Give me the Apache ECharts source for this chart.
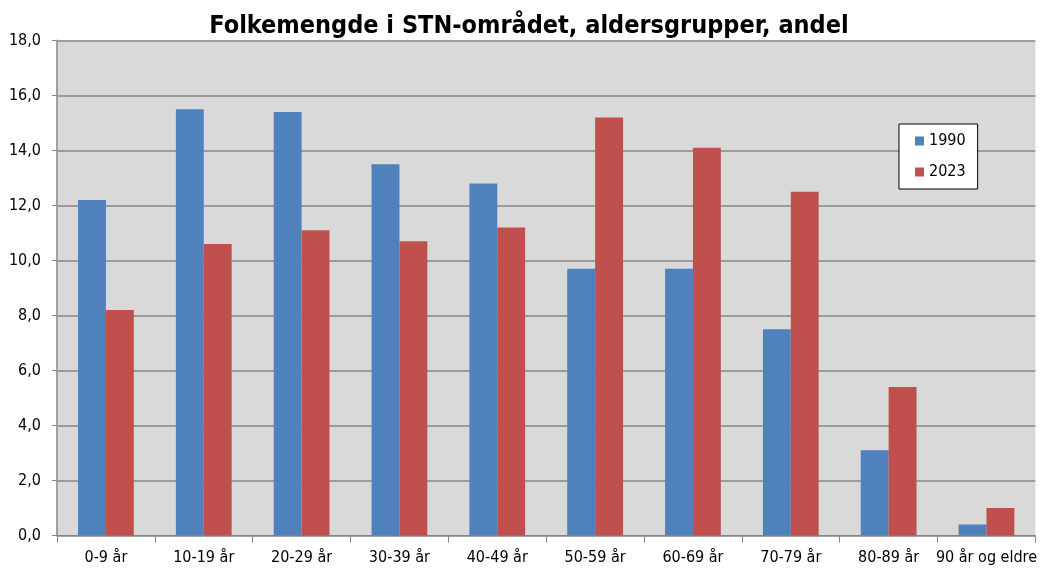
<!DOCTYPE html>
<html><head><meta charset="utf-8">
<script src="https://cdn.jsdelivr.net/npm/echarts@6/dist/echarts.min.js"></script>
<style>html,body{margin:0;padding:0;background:#fff}#c{width:1040px;height:568px}</style>
</head><body><div id="c"></div>
<script>
const categories = ['0-9 år','10-19 år','20-29 år','30-39 år','40-49 år','50-59 år','60-69 år','70-79 år','80-89 år','90 år og eldre'];
const s1990 = [12.2, 15.5, 15.4, 13.5, 12.8, 9.7, 9.7, 7.5, 3.1, 0.4];
const s2023 = [8.2, 10.6, 11.1, 10.7, 11.2, 15.2, 14.1, 12.5, 5.4, 1.0];
const seriesNames = ['1990','2023'];
const FONT = "'Liberation Sans Narrow','DejaVu Sans Condensed','Open Sans',sans-serif";
const chart = echarts.init(document.getElementById('c'));
chart.setOption({
  animation:false,
  backgroundColor:'#ffffff',
  title:{text:'Folkemengde i STN-området, aldersgrupper, andel',left:524,textAlign:'center',top:9,
    textStyle:{fontFamily:FONT,fontSize:25,fontWeight:'bold',color:'#000'}},
  legend:{orient:'vertical',left:899,top:124,data:seriesNames,icon:'rect',itemWidth:9,itemHeight:9,itemGap:15,
    padding:[9,12,9,16],backgroundColor:'#ffffff',borderColor:'#000',borderWidth:1,
    textStyle:{fontFamily:FONT,fontSize:16,color:'#000'}},
  grid:{left:57,right:4,top:40.5,bottom:32.5,show:true,backgroundColor:'#d9d9d9',borderWidth:0},
  xAxis:{type:'category',data:categories,
    axisLine:{show:true,lineStyle:{color:'#868686',width:1}},
    axisTick:{show:true,alignWithLabel:false,length:7,lineStyle:{color:'#868686'}},
    axisLabel:{fontFamily:FONT,fontSize:16,color:'#000',margin:14,interval:0}},
  yAxis:{type:'value',min:0,max:18,interval:2,
    axisLine:{show:true,lineStyle:{color:'#a0a0a0',width:2}},
    axisTick:{show:true,length:5,lineStyle:{color:'#868686'}},
    splitLine:{lineStyle:{color:'#868686',width:1.5}},
    axisLabel:{fontFamily:FONT,fontSize:16,color:'#000',margin:16,formatter:v=>v.toFixed(1).replace('.',',')}},
  series:[
    {name:'1990',type:'bar',data:s1990,barGap:'0%',barCategoryGap:'43%',itemStyle:{color:'#4f81bd'}},
    {name:'2023',type:'bar',data:s2023,barGap:'0%',barCategoryGap:'43%',itemStyle:{color:'#c0504d'}}
  ]
});
</script></body></html>
